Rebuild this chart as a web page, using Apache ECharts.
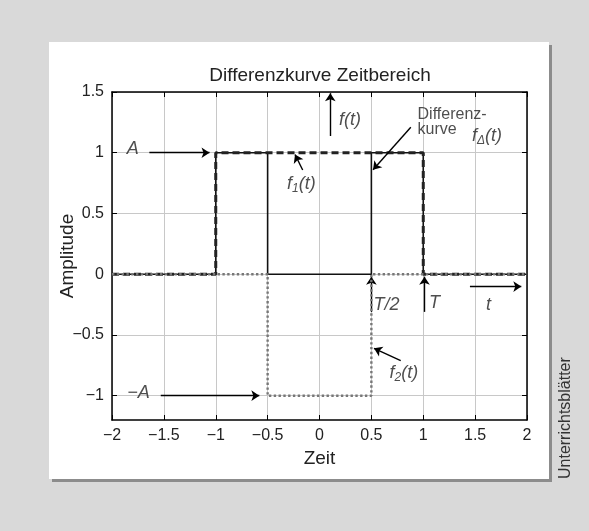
<!DOCTYPE html>
<html>
<head>
<meta charset="utf-8">
<script src="https://cdn.jsdelivr.net/npm/echarts@6/dist/echarts.min.js"></script>
<style>html,body{margin:0;padding:0;background:#d9d9d9;}#c{width:589px;height:531px;}</style>
</head>
<body>
<div id="c"></div>
<script>
// ---- data ----
const yTicks = [-1, -0.5, 0, 0.5, 1, 1.5];
const f1X = [-2, -1, -1, 1, 1, 2];
const f1Y = [0, 0, 1, 1, 0, 0];
const f2X = [-2, -0.5, -0.5, 0.5, 0.5, 2];
const f2Y = [0, 0, -1, -1, 0, 0];
const fdX = [-2, -1, -1, -0.5, -0.5, 0.5, 0.5, 1, 1, 2];
const fdY = [0, 0, 1, 1, 0, 0, 1, 1, 0, 0];
// annotation arrows: [x1, y1, x2, y2] in data units (head at x2,y2)
const arrows = [
  [-1.64, 1.0, -1.06, 1.0],
  [-1.53, -1.0, -0.58, -1.0],
  [0.104, 1.138, 0.104, 1.49],
  [0.88, 1.21, 0.516, 0.86],
  [-0.162, 0.858, -0.236, 0.985],
  [0.5, -0.31, 0.5, -0.02],
  [1.012, -0.31, 1.012, -0.02],
  [1.45, -0.102, 1.945, -0.102],
  [0.783, -0.711, 0.525, -0.61]
];
// annotation texts: [x, y, text, align]
const notes = [
  [-1.80, 1.03, '{i|A}', 'center'],
  [-1.744, -0.976, '{i|−A}', 'center'],
  [0.294, 1.27, '{i|f(t)}', 'center'],
  [0.945, 1.25, '{n|Differenz-}\n{n|kurve}', 'left'],
  [1.614, 1.14, '{i|f}{s|Δ}{i|(t)}', 'center'],
  [-0.174, 0.745, '{i|f}{s|1}{i|(t)}', 'center'],
  [0.814, -0.81, '{i|f}{s|2}{i|(t)}', 'center'],
  [0.52, -0.25, '{i|T/2}', 'left'],
  [1.108, -0.24, '{i|T}', 'center'],
  [1.63, -0.25, '{i|t}', 'center']
];

const FONT = 'Liberation Sans';
const TXT = '#222';
const minus = v => String(v).replace('-', '−');
const zip = (xs, ys) => xs.map((x, i) => [x, ys[i]]);

const chart = echarts.init(document.getElementById('c'), null, {renderer: 'canvas'});
const tickCommon = {show: true, inside: true, length: 5, lineStyle: {color: '#000', width: 1}};
const axisLineCommon = {show: true, onZero: false, lineStyle: {color: '#000', width: 1.5}};

chart.setOption({
  backgroundColor: '#d9d9d9',
  animation: false,
  graphic: [
    {type: 'rect', z: -20, silent: true, shape: {x: 52, y: 45, width: 500, height: 437}, style: {fill: '#8c8c8c'}},
    {type: 'rect', z: -19, silent: true, shape: {x: 49, y: 42, width: 500, height: 437}, style: {fill: '#ffffff'}},
    {type: 'text', z: 10, silent: true, x: 566, y: 479, rotation: Math.PI / 2,
     style: {text: 'Unterrichtsblätter', font: '16px "' + FONT + '"', fill: '#333', align: 'left', verticalAlign: 'middle'}}
  ],
  title: {
    text: 'Differenzkurve Zeitbereich',
    left: 315, top: 61, textAlign: 'center',
    textStyle: {fontFamily: FONT, fontSize: 19, fontWeight: 'normal', color: TXT}
  },
  grid: {left: 112, top: 92, right: 62, bottom: 111, containLabel: false},
  xAxis: [{
    type: 'value', min: -2, max: 2, interval: 0.5, position: 'bottom',
    name: 'Zeit', nameLocation: 'middle', nameGap: 25,
    nameTextStyle: {fontFamily: FONT, fontSize: 19, color: TXT},
    axisLine: axisLineCommon, axisTick: tickCommon,
    axisLabel: {fontFamily: FONT, fontSize: 16, color: TXT, margin: 8, formatter: minus},
    splitLine: {show: true, lineStyle: {color: '#c8c8c8', width: 1}}
  }, {
    type: 'value', min: -2, max: 2, interval: 0.5, position: 'top',
    axisLine: axisLineCommon, axisTick: tickCommon, axisLabel: {show: false}, splitLine: {show: false}
  }],
  yAxis: [{
    type: 'value', min: -1.2, max: 1.5, position: 'left',
    name: 'Amplitude', nameLocation: 'middle', nameGap: 35, nameMoveOverlap: false,
    nameTextStyle: {fontFamily: FONT, fontSize: 19, color: TXT},
    axisLine: axisLineCommon,
    axisTick: Object.assign({customValues: yTicks}, tickCommon),
    axisLabel: {customValues: yTicks, fontFamily: FONT, fontSize: 16, color: TXT, margin: 8, formatter: minus},
    splitLine: {show: true, lineStyle: {color: '#c8c8c8', width: 1}}
  }, {
    type: 'value', min: -1.2, max: 1.5, position: 'right',
    axisLine: axisLineCommon,
    axisTick: Object.assign({customValues: yTicks}, tickCommon),
    axisLabel: {show: false, customValues: yTicks}, splitLine: {show: false}
  }],
  series: [
    {type: 'line', name: 'fd', data: zip(fdX, fdY), symbol: 'none', z: 3,
     lineStyle: {color: '#111', width: 1.6, type: 'solid'}},
    {type: 'line', name: 'f1', data: zip(f1X, f1Y), symbol: 'none', z: 4,
     lineStyle: {color: '#222', width: 3, type: [7, 4]}},
    {type: 'line', name: 'f2', data: zip(f2X, f2Y), symbol: 'none', z: 5,
     lineStyle: {color: '#777', width: 2.4, type: [2.4, 2.4]},
     markLine: {
       silent: true, symbol: ['none', 'arrow'], symbolSize: 8, animation: false,
       label: {show: false},
       lineStyle: {color: '#000', width: 1.4, type: 'solid'},
       data: arrows.map(a => [{coord: [a[0], a[1]]}, {coord: [a[2], a[3]]}])
     }},
    {type: 'scatter', name: 'notes', symbolSize: 0, z: 6, silent: true,
     data: notes.map(n => ({
       value: [n[0], n[1]],
       label: {
         show: true, position: 'inside', align: n[3], verticalAlign: 'middle',
         formatter: n[2],
         rich: {
           i: {fontFamily: FONT, fontStyle: 'italic', fontSize: 18, color: TXT},
           n: {fontFamily: FONT, fontSize: 16, color: TXT, lineHeight: 15},
           s: {fontFamily: FONT, fontStyle: 'italic', fontSize: 12, color: TXT, padding: [10, 0, 0, 0]}
         }
       }
     }))}
  ]
});
</script>
</body>
</html>
